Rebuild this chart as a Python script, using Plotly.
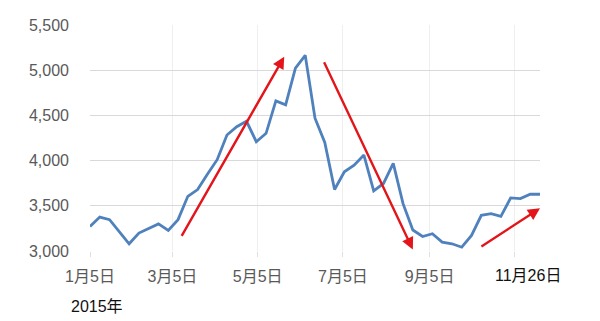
import pandas as pd
import plotly.graph_objects as go

# ---- data ----
start_date = "2015-01-05"
n_weeks = 47
dates = pd.date_range(start_date, periods=n_weeks, freq="7D")
values = [3272, 3375, 3347, 3210, 3080, 3198, 3250, 3300, 3228, 3347,
          3605, 3680, 3850, 4010, 4283, 4375, 4435, 4209, 4302, 4661,
          4617, 5024, 5165, 4469, 4200, 3680, 3876, 3950, 4061, 3665,
          3747, 3969, 3524, 3232, 3160, 3191, 3098, 3080, 3042, 3172,
          3394, 3413, 3383, 3587, 3580, 3628, 3628]

x_tick_vals = ["2015-01-05", "2015-03-05", "2015-05-05", "2015-07-05", "2015-09-05", "2015-11-05"]
x_tick_text = ["1月5日", "3月5日", "5月5日", "7月5日", "9月5日", ""]
y_tick_vals = [3000, 3500, 4000, 4500, 5000, 5500]
end_label = "11月26日"
year_label = "2015年"

# trend arrows: (start date, start value, end date, end value)
arrows = [
    ("2015-03-11", 3150, "2015-05-24", 5150),
    ("2015-06-21", 5105, "2015-08-24", 3017),
    ("2015-10-11", 3039, "2015-11-23", 3472),
]

FONT = "Liberation Sans, Noto Sans CJK JP, sans-serif"

fig = go.Figure()
fig.add_trace(go.Scatter(
    x=dates, y=values, mode="lines",
    line=dict(color="#4F81BD", width=2.8),
    hoverinfo="skip", showlegend=False,
))

for x0, y0, x1, y1 in arrows:
    fig.add_annotation(
        x=x1, y=y1, ax=x0, ay=y0,
        xref="x", yref="y", axref="x", ayref="y",
        text="", showarrow=True,
        arrowhead=2, arrowsize=1.0, arrowwidth=2.4, arrowcolor="#E3151A",
        standoff=0, startstandoff=0,
    )

fig.add_annotation(
    x=1.0, y=0, xref="paper", yref="paper",
    text=end_label, showarrow=False, xanchor="center", yanchor="top",
    xshift=-12, yshift=-14,
    font=dict(family=FONT, size=16, color="#111111"),
)
fig.add_annotation(
    x=0, y=0, xref="paper", yref="paper",
    text=year_label, showarrow=False, xanchor="center", yanchor="top",
    xshift=7, yshift=-45,
    font=dict(family=FONT, size=16, color="#111111"),
)

fig.update_layout(
    width=600, height=321,
    margin=dict(l=90, r=60, t=25, b=70, pad=0),
    paper_bgcolor="white", plot_bgcolor="white",
    font=dict(family=FONT, size=16, color="#595959"),
    xaxis=dict(
        type="date",
        range=[dates[0], dates[-1]],
        tickmode="array", tickvals=x_tick_vals, ticktext=x_tick_text,
        showgrid=True, gridcolor="#EFEFEF", gridwidth=1,
        ticks="outside", ticklen=5, tickcolor="#E0E0E0",
        showline=False, zeroline=False,
        ticklabelstandoff=6,
        tickfont=dict(family=FONT, size=16, color="#595959"),
    ),
    yaxis=dict(
        range=[3000, 5500],
        tickmode="array", tickvals=y_tick_vals, tickformat=",",
        showgrid=True, gridcolor="#D9D9D9", gridwidth=1,
        showline=False, zeroline=False, ticks="",
        ticklabelstandoff=20,
        tickfont=dict(family=FONT, size=16, color="#595959"),
    ),
)

fig.write_html("out.html")
